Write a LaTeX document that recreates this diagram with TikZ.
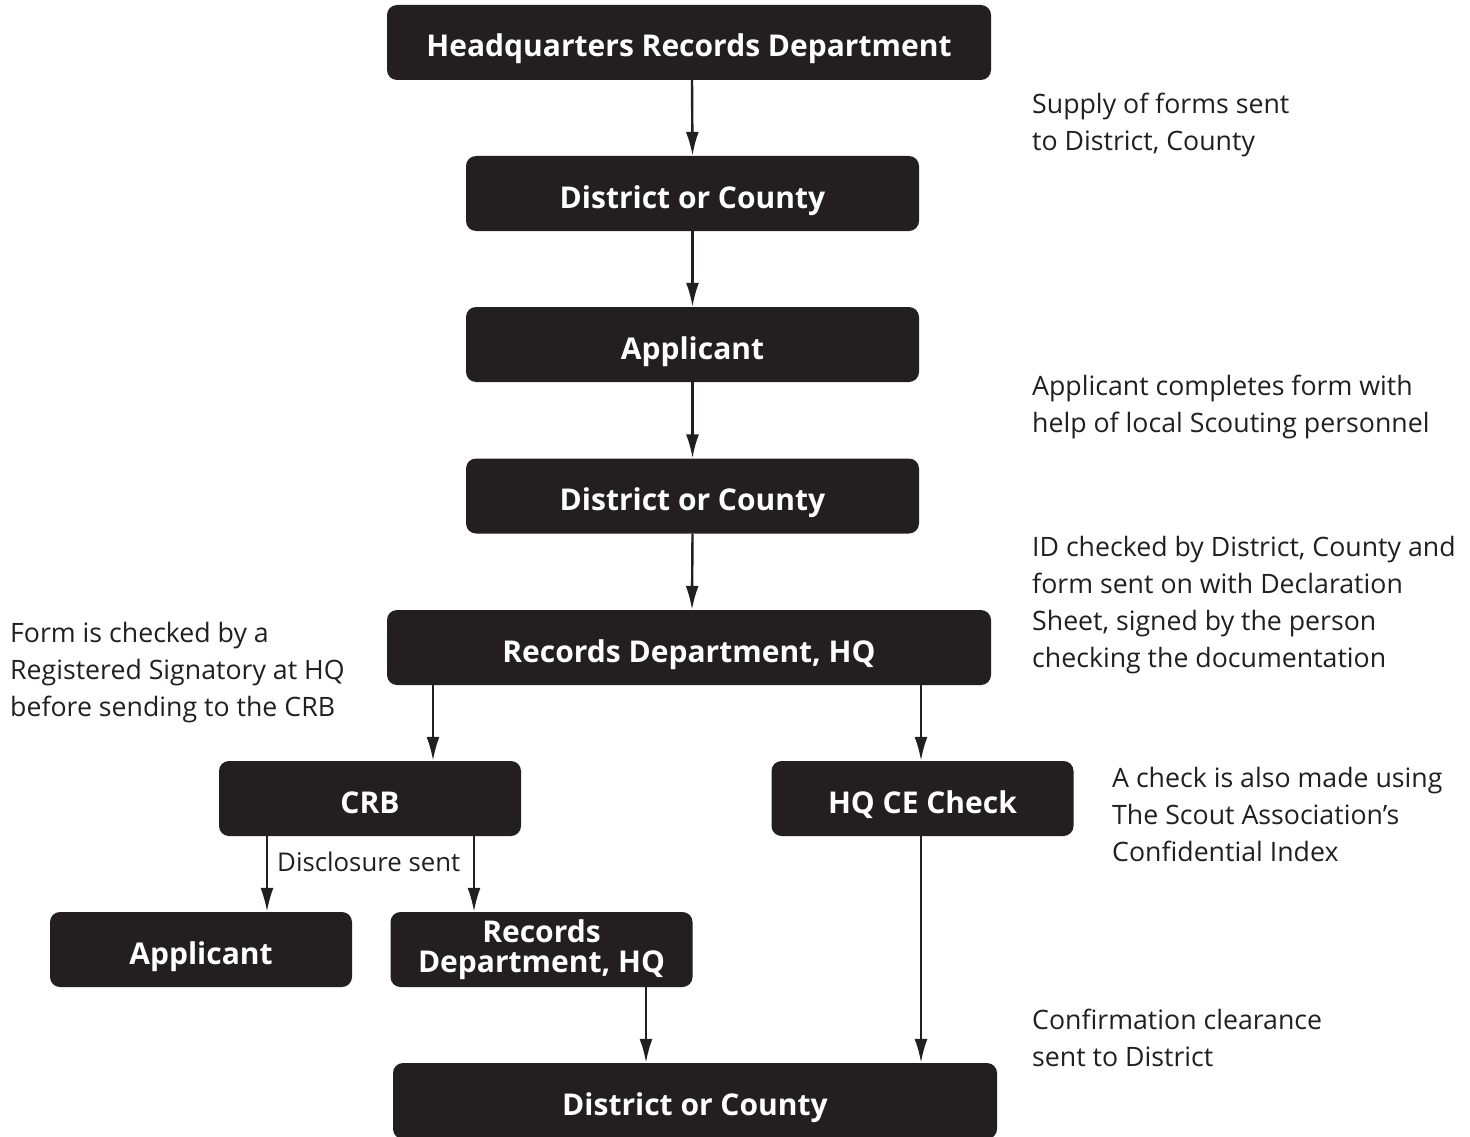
\documentclass[tikz,border=0pt]{standalone}
\usepackage{fontspec}
\setmainfont{Open Sans}
\usetikzlibrary{arrows.meta}
\definecolor{boxc}{HTML}{231F20}
\tikzset{
  box/.style={draw=none, fill=boxc, rounded corners=10pt, text=white, inner sep=0pt,
    font=\fontsize{30}{30}\selectfont\bfseries, align=center, text height=29pt, text depth=0pt},
  note/.style={anchor=base west, inner sep=0pt, align=left, text=boxc,
    font=\fontsize{26.7}{37}\selectfont},
  arr/.style={draw=boxc, line width=2.4pt, -{Latex[length=24pt,width=13pt]}}
}
\begin{document}
\begin{tikzpicture}[x=1pt,y=-1pt]
\useasboundingbox (0,0) rectangle (1470,1137);
\node[box, minimum width=604pt, minimum height=75pt] (hq) at (689,42.5) {Headquarters Records Department};
\node[box, minimum width=453pt, minimum height=75pt] (dc1) at (692.5,193.5) {District or County};
\node[box, minimum width=453pt, minimum height=75pt] (app1) at (692.5,344.5) {Applicant};
\node[box, minimum width=453pt, minimum height=75pt] (dc2) at (692.5,496) {District or County};
\node[box, minimum width=604pt, minimum height=75pt] (rec1) at (689,647.5) {Records Department, HQ};
\node[box, minimum width=302pt, minimum height=75pt] (crb) at (370,798.5) {CRB};
\node[box, minimum width=302pt, minimum height=75pt] (ce) at (922.5,798.5) {HQ CE Check};
\node[box, minimum width=302pt, minimum height=75pt] (app2) at (201,949.5) {Applicant};
\node[box, minimum width=302pt, minimum height=75pt, text height={}, text depth={}] (rec2) at (541.5,949.5) {Records\\Department, HQ};
\node[box, minimum width=604pt, minimum height=76pt] (dc3) at (695,1101) {District or County};

\draw[arr] (hq.south -| 692,0) -- (dc1.north);
\draw[arr] (dc1.south) -- (app1.north);
\draw[arr] (app1.south) -- (dc2.north);
\draw[arr] (dc2.south) -- (rec1.north -| 692,0);
\draw[arr] (rec1.south -| 433,0) -- (crb.north -| 433,0);
\draw[arr] (rec1.south -| 921,0) -- (ce.north -| 921,0);
\draw[arr] (crb.south -| 267,0) -- (app2.north -| 267,0);
\draw[arr] (crb.south -| 474,0) -- (rec2.north -| 474,0);
\draw[arr] (rec2.south -| 646,0) -- (dc3.north -| 646,0);
\draw[arr] (ce.south -| 921,0) -- (dc3.north -| 921,0);

\node[note] (n1) at (1032,150) {Supply of forms sent\\to District, County};
\node[note] (n2) at (1032,432) {Applicant completes form with\\help of local Scouting personnel};
\node[note] (n3) at (1032,667) {ID checked by District, County and\\form sent on with Declaration\\Sheet, signed by the person\\checking the documentation};
\node[note] (n4) at (10,716) {Form is checked by a\\Registered Signatory at HQ\\before sending to the CRB};
\node[note] (n5) at (1112,861) {A check is also made using\\The Scout Association’s\\Confidential Index};
\node[note] (n6) at (1032,1066) {Confirmation clearance\\sent to District};
\node[note, font=\fontsize{25.8}{37}\selectfont] (n7) at (277,871) {Disclosure sent};
\end{tikzpicture}
\end{document}
